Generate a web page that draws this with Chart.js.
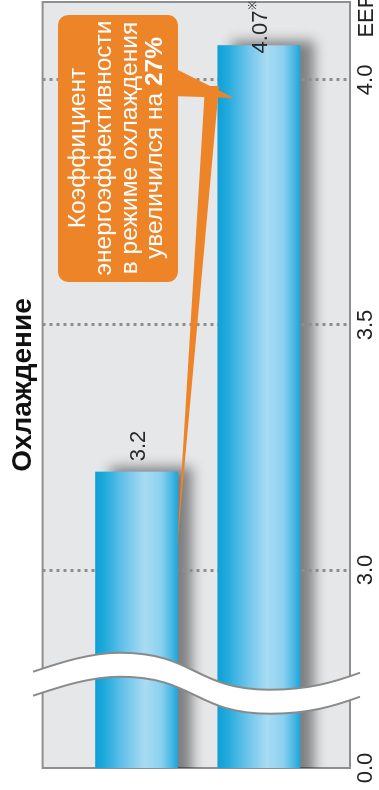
<!DOCTYPE html>
<html>
<head>
<meta charset="utf-8">
<script src="https://cdn.jsdelivr.net/npm/chart.js@4/dist/chart.umd.min.js"></script>
<style>
  html, body { margin: 0; padding: 0; background: #fff; overflow: hidden; }
  #wrap {
    position: absolute; left: 0; top: 0;
    width: 790px; height: 379px;
    transform-origin: 0 0;
    transform: translateY(790px) rotate(-90deg);
  }
</style>
</head>
<body>
<div id="wrap"><canvas id="chart" width="790" height="379"></canvas></div>
<script>
// chart data
const barSlots = [1, 2];
const eerValues = [3.2, 4.07];
const valueLabels = ['3.2', '4.07'];
const valueMarks = ['', '※'];
const tickValues = [3.0, 3.5, 4.0];
const axisMin = 2.596;   // shown as 0.0 (axis is broken)
const axisMax = 4.159;
const breakAt = 2.77;
const titleText = 'Охлаждение';
const calloutLines = ['Коэффициент', 'энергоэффективности', 'в режиме охлаждения'];
const calloutLast = ['увеличился на ', '27%'];

const FONT = '"Liberation Sans", Arial, Helvetica, sans-serif';
const ORANGE = '#ee8428';

function barGradient(c) {
  const chart = c.chart;
  const slot = barSlots[c.dataIndex];
  const y = slot === undefined ? NaN : chart.scales.y.getPixelForValue(slot);
  if (!isFinite(y)) return '#5bbde6';
  const g = chart.ctx.createLinearGradient(0, y - 41, 0, y + 41);
  g.addColorStop(0, '#0f9fd7');
  g.addColorStop(0.12, '#22abdd');
  g.addColorStop(0.35, '#6ac3ea');
  g.addColorStop(0.6, '#a9dcf3');
  g.addColorStop(0.8, '#8ad0ef');
  g.addColorStop(0.93, '#48b7e3');
  g.addColorStop(1, '#1ea6db');
  return g;
}

const decor = {
  id: 'decor',
  beforeDraw(chart) {
    const { ctx, chartArea: a } = chart;
    ctx.save();
    ctx.fillStyle = '#fff';
    ctx.fillRect(0, 0, chart.width, chart.height);
    ctx.fillStyle = '#e6e7e9';
    ctx.fillRect(a.left, a.top, a.right - a.left, a.bottom - a.top);
    ctx.strokeStyle = '#8f8f8f';
    ctx.lineWidth = 2;
    ctx.strokeRect(a.left, a.top, a.right - a.left, a.bottom - a.top);
    // bar shadows, under the grid
    ctx.beginPath();
    ctx.rect(a.left, a.top, a.right - a.left, a.bottom - a.top);
    ctx.clip();
    ctx.shadowColor = 'rgba(0,0,0,0.45)';
    ctx.shadowBlur = 12;
    ctx.shadowOffsetX = 5;
    ctx.shadowOffsetY = 14;
    ctx.fillStyle = '#9a9a9a';
    chart.getDatasetMeta(0).data.forEach(bar => {
      ctx.fillRect(bar.base, bar.y - bar.height / 2, bar.x - bar.base, bar.height);
    });
    ctx.restore();
  },
  afterDatasetsDraw(chart) {
    const { ctx, chartArea: a, scales } = chart;
    // broken axis band
    const u0 = scales.x.getPixelForValue(breakAt);
    const wave = (off) => {
      const p = (X, dY) => [u0 - dY - off, X];
      return [p(33, 1), p(60, -8), p(90, -18), p(120, -18), p(195, -18), p(195, 19), p(270, 19), p(310, 19), p(335, 11), p(360, 2)];
    };
    const up = wave(-12), lo = wave(12);
    ctx.save();
    ctx.beginPath();
    ctx.moveTo(...up[0]);
    for (let i = 1; i < up.length; i += 3) ctx.bezierCurveTo(...up[i], ...up[i + 1], ...up[i + 2]);
    ctx.lineTo(...lo[lo.length - 1]);
    for (let i = lo.length - 2; i > 0; i -= 3) ctx.bezierCurveTo(...lo[i], ...lo[i - 1], ...lo[i - 2]);
    ctx.closePath();
    ctx.fillStyle = '#fff';
    ctx.fill();
    ctx.strokeStyle = '#8a8a8a';
    ctx.lineWidth = 2;
    [up, lo].forEach(w => {
      ctx.beginPath();
      ctx.moveTo(...w[0]);
      for (let i = 1; i < w.length; i += 3) ctx.bezierCurveTo(...w[i], ...w[i + 1], ...w[i + 2]);
      ctx.stroke();
    });

    // value labels
    ctx.fillStyle = '#2a2a2a';
    ctx.textBaseline = 'middle';
    chart.getDatasetMeta(0).data.forEach((bar, i) => {
      ctx.font = '22px ' + FONT;
      ctx.textAlign = 'center';
      const cx = Math.min(bar.x + 26, a.right - 30);
      ctx.fillText(valueLabels[i], cx, bar.y + 2);
      if (valueMarks[i]) {
        const w = ctx.measureText(valueLabels[i]).width;
        ctx.font = '11px ' + FONT;
        ctx.textAlign = 'left';
        ctx.fillText(valueMarks[i], cx + w / 2 + 1, bar.y - 6);
      }
    });

    // axis unit
    ctx.font = '22px ' + FONT;
    ctx.textAlign = 'center';
    ctx.fillStyle = '#222';
    ctx.fillText('EER', 775, a.bottom + 17);
    ctx.restore();
  },
  afterDraw(chart) {
    const { ctx } = chart;
    ctx.save();
    ctx.fillStyle = ORANGE;
    // long pointer to the first bar
    ctx.beginPath();
    ctx.moveTo(704, 205);
    ctx.lineTo(704, 219);
    ctx.lineTo(242, 177);
    ctx.closePath();
    ctx.fill();
    // short pointer to the second bar
    ctx.beginPath();
    ctx.moveTo(724, 170);
    ctx.lineTo(692, 234);
    ctx.lineTo(694, 170);
    ctx.closePath();
    ctx.fill();
    // box
    ctx.beginPath();
    ctx.roundRect(508, 58, 267, 120, 10);
    ctx.fill();

    ctx.fillStyle = '#fff';
    ctx.textBaseline = 'middle';
    ctx.textAlign = 'center';
    const size = 24.5;
    ctx.font = size + 'px ' + FONT;
    const cu = 642;
    const rows = [78, 104, 130, 155];
    calloutLines.forEach((t, i) => ctx.fillText(t, cu, rows[i]));
    ctx.textAlign = 'left';
    const w1 = ctx.measureText(calloutLast[0]).width;
    ctx.font = 'bold ' + size + 'px ' + FONT;
    const w2 = ctx.measureText(calloutLast[1]).width;
    const start = cu - (w1 + w2) / 2;
    ctx.font = size + 'px ' + FONT;
    ctx.fillText(calloutLast[0], start, rows[3]);
    ctx.font = 'bold ' + size + 'px ' + FONT;
    ctx.fillText(calloutLast[1], start + w1, rows[3]);
    ctx.restore();
  }
};

new Chart(document.getElementById('chart').getContext('2d'), {
  type: 'bar',
  data: {
    datasets: [{
      data: eerValues.map((v, i) => ({ x: v, y: barSlots[i] })),
      backgroundColor: barGradient,
      borderWidth: 0,
      barThickness: 82
    }]
  },
  options: {
    indexAxis: 'y',
    responsive: false,
    animation: false,
    devicePixelRatio: 1,
    layout: { padding: { left: 22, right: 2, top: 0, bottom: 0 } },
    plugins: {
      legend: { display: false },
      tooltip: { enabled: false },
      title: {
        display: true,
        text: titleText,
        color: '#111',
        font: { family: FONT, size: 28, weight: 'bold' },
        padding: { top: 6, bottom: 3 }
      }
    },
    scales: {
      x: {
        type: 'linear',
        min: axisMin,
        max: axisMax,
        afterBuildTicks: s => { s.ticks = [axisMin, ...tickValues].map(v => ({ value: v })); },
        afterFit: s => { s.height = 29; },
        ticks: {
          autoSkip: false,
          maxRotation: 0,
          padding: 3,
          color: '#222',
          font: { family: FONT, size: 22 },
          callback: v => (v === axisMin ? '0.0' : v.toFixed(1))
        },
        grid: {
          drawTicks: false,
          lineWidth: 3,
          color: c => (c.tick && c.tick.value >= 3 ? '#8d8d8d' : 'rgba(0,0,0,0)')
        },
        border: { display: false, dash: [3, 4] }
      },
      y: {
        type: 'linear',
        display: false,
        offset: false,
        bounds: 'data',
        reverse: true,
        min: 0.23,
        max: 2.746
      }
    }
  },
  plugins: [decor]
});
</script>
</body>
</html>
